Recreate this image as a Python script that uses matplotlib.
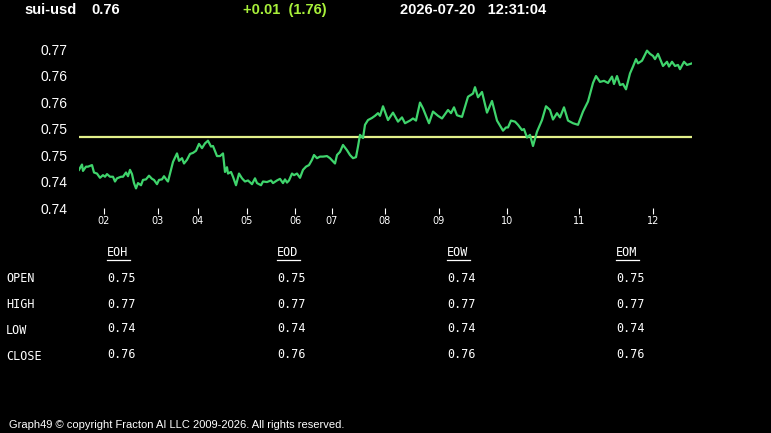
import numpy as np
import matplotlib
matplotlib.use("Agg")
import matplotlib.pyplot as plt
from matplotlib.lines import Line2D

# ---- data ----
ticker = "sui-usd"
last_price = "0.76"
change_text = "+0.01  (1.76)"
stamp_text = "2026-07-20   12:31:04"

# time position (bar index) and price
t = [0, 3, 4, 7, 9, 13, 15, 18, 21, 24, 26, 28, 31, 34, 36, 38, 42, 44, 47, 49,
     51, 53, 55, 57, 59, 62, 64, 67, 70, 73, 75, 78, 80, 83, 85, 88, 89, 92, 94, 98,
     100, 103, 105, 108, 111, 114, 117, 120, 123, 126, 129, 132, 134, 138, 141, 144, 146, 148, 149, 152,
     154, 157, 160, 163, 166, 169, 173, 176, 178, 182, 184, 188, 192, 194, 198, 201, 204, 206, 208, 210,
     213, 215, 218, 221, 224, 227, 230, 233, 235, 238, 241, 244, 248, 251, 256, 258, 261, 264, 268, 271,
     274, 277, 279, 281, 284, 286, 289, 293, 296, 299, 301, 304, 309, 314, 319, 323, 326, 331, 334, 337,
     341, 344, 350, 354, 359, 363, 369, 372, 375, 378, 383, 389, 394, 396, 399, 403, 408, 413, 418, 424,
     427, 429, 432, 436, 439, 443, 445, 448, 451, 454, 458, 463, 467, 471, 474, 478, 481, 485, 489, 494,
     499, 504, 509, 514, 517, 521, 525, 529, 533, 535, 538, 541, 544, 547, 551, 554, 557, 559, 563, 568,
     571, 574, 576, 579, 584, 588, 590, 593, 596, 599, 601, 605, 608, 613]
price = [0.7472, 0.7482, 0.7470, 0.7478, 0.7478, 0.7481, 0.7467, 0.7465, 0.7457, 0.7462,
         0.7459, 0.7464, 0.7459, 0.7459, 0.7450, 0.7456, 0.7459, 0.7459, 0.7467, 0.7460,
         0.7472, 0.7464, 0.7447, 0.7437, 0.7447, 0.7443, 0.7453, 0.7454, 0.7461, 0.7455,
         0.7453, 0.7445, 0.7453, 0.7454, 0.7460, 0.7452, 0.7450, 0.7472, 0.7487, 0.7503,
         0.7489, 0.7494, 0.7484, 0.7491, 0.7502, 0.7504, 0.7508, 0.7521, 0.7513, 0.7522,
         0.7527, 0.7516, 0.7517, 0.7498, 0.7498, 0.7503, 0.7468, 0.7477, 0.7465, 0.7468,
         0.7459, 0.7443, 0.7465, 0.7456, 0.7450, 0.7452, 0.7445, 0.7456, 0.7447, 0.7443,
         0.7450, 0.7449, 0.7452, 0.7447, 0.7452, 0.7455, 0.7447, 0.7454, 0.7448, 0.7452,
         0.7465, 0.7462, 0.7465, 0.7457, 0.7472, 0.7478, 0.7481, 0.7491, 0.7500, 0.7494,
         0.7497, 0.7497, 0.7498, 0.7494, 0.7484, 0.7500, 0.7506, 0.7519, 0.7509, 0.7500,
         0.7494, 0.7496, 0.7516, 0.7538, 0.7532, 0.7557, 0.7566, 0.7570, 0.7574, 0.7579,
         0.7574, 0.7592, 0.7566, 0.7580, 0.7563, 0.7571, 0.7560, 0.7565, 0.7569, 0.7565,
         0.7599, 0.7588, 0.7560, 0.7582, 0.7574, 0.7569, 0.7585, 0.7579, 0.7590, 0.7575,
         0.7572, 0.7610, 0.7616, 0.7628, 0.7609, 0.7619, 0.7580, 0.7602, 0.7565, 0.7546,
         0.7552, 0.7552, 0.7565, 0.7563, 0.7557, 0.7547, 0.7549, 0.7533, 0.7538, 0.7517,
         0.7544, 0.7566, 0.7592, 0.7585, 0.7567, 0.7579, 0.7571, 0.7590, 0.7565, 0.7560,
         0.7557, 0.7582, 0.7601, 0.7636, 0.7649, 0.7638, 0.7640, 0.7636, 0.7648, 0.7634,
         0.7649, 0.7632, 0.7634, 0.7624, 0.7654, 0.7667, 0.7681, 0.7673, 0.7678, 0.7697,
         0.7691, 0.7687, 0.7681, 0.7691, 0.7668, 0.7676, 0.7667, 0.7676, 0.7668, 0.7670,
         0.7662, 0.7676, 0.7670, 0.7673]
open_level = 0.7534

y_ticks = [0.740, 0.745, 0.750, 0.755, 0.760, 0.765, 0.770]
y_labels = ["0.74", "0.74", "0.75", "0.75", "0.76", "0.76", "0.77"]
x_ticks = [25, 79, 119, 168, 216, 253, 306, 360, 428, 500, 574]
x_labels = ["02", "03", "04", "05", "06", "07", "08", "09", "10", "11", "12"]

col_heads = ["EOH", "EOD", "EOW", "EOM"]
row_heads = ["OPEN", "HIGH", "LOW", "CLOSE"]
table_vals = [["0.75", "0.75", "0.74", "0.75"],
              ["0.77", "0.77", "0.77", "0.77"],
              ["0.74", "0.74", "0.74", "0.74"],
              ["0.76", "0.76", "0.76", "0.76"]]

footer = "Graph49 \u00a9 copyright Fracton AI LLC 2009-2026. All rights reserved."

# ---- figure ----
W, H = 771, 433
fig = plt.figure(figsize=(W / 100, H / 100), dpi=100, facecolor="black")


def fx(px):
    return px / W


def fy(py):
    return 1 - py / H


ax = fig.add_axes([fx(79), fy(208), fx(613), 166.9 / H])
ax.set_facecolor("black")
ax.plot(t, price, color="#3fd46c", linewidth=1.6, zorder=3)
ax.plot([t[0], t[-1]], [open_level, open_level], color="#e3f08a", linewidth=1.6, zorder=2)
ax.set_xlim(0, 613)
ax.set_ylim(0.740, 0.7715)
for s in ax.spines.values():
    s.set_visible(False)
ax.set_yticks(y_ticks)
ax.set_yticklabels(y_labels, fontsize=10, color="white", family="Liberation Sans")
ax.tick_params(axis="y", length=0, pad=8)
ax.set_xticks(x_ticks)
ax.set_xticklabels(x_labels, fontsize=7, color="white")
ax.tick_params(axis="x", length=4, width=0.8, color="white", pad=2)

# header
hdr = dict(color="white", fontsize=10.5, fontweight="bold", family="Liberation Sans", va="center")
fig.text(fx(24), fy(10), ticker, **hdr)
fig.text(fx(91), fy(10), last_price, **hdr)
fig.text(fx(243), fy(10), change_text, **{**hdr, "color": "#a8f03a"})
fig.text(fx(400), fy(10), stamp_text, **hdr)

# OHLC table
mono = dict(color="white", fontsize=8.5, family="DejaVu Sans Mono", va="center")
col_x = [107, 277, 447, 616]
row_y = [279, 305, 330, 356]
for cx, head in zip(col_x, col_heads):
    fig.text(fx(cx), fy(253), head, **mono)
    fig.add_artist(Line2D([fx(cx), fx(cx + 23)], [fy(259.5), fy(259.5)],
                          color="white", linewidth=0.9))
for ry, rname, vals in zip(row_y, row_heads, table_vals):
    fig.text(fx(6), fy(ry), rname, **mono)
    for cx, v in zip(col_x, vals):
        fig.text(fx(cx), fy(ry - 1), v, **mono)

fig.text(fx(9), fy(425), footer, color="white", fontsize=8,
         family="Liberation Sans", va="center")

fig.savefig("out.png", dpi=100, facecolor="black")
